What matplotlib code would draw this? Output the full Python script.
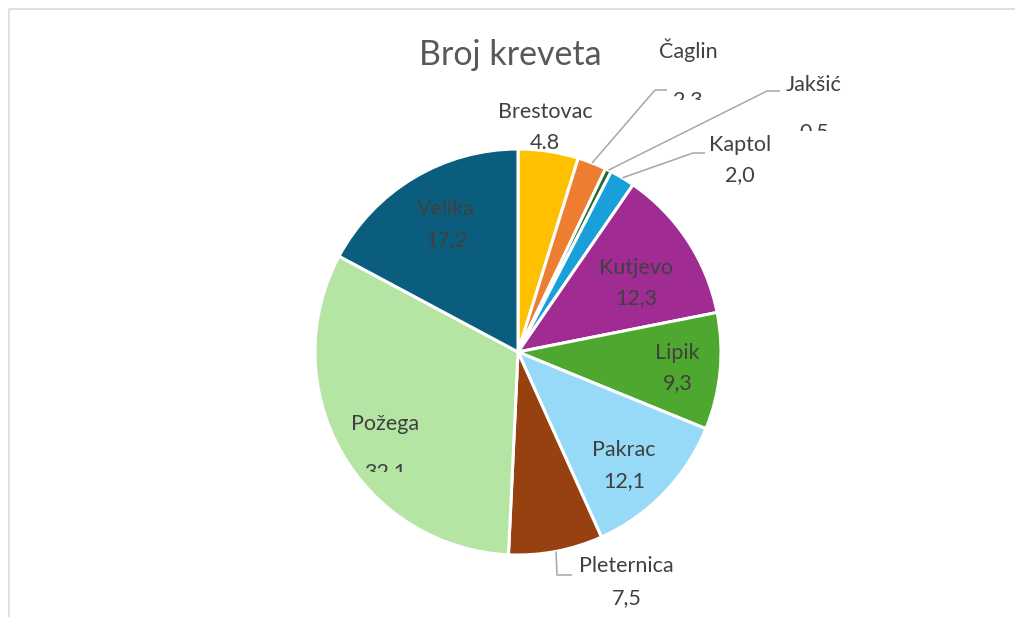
import matplotlib
matplotlib.use("Agg")
import matplotlib.pyplot as plt
from matplotlib.transforms import Bbox, TransformedBbox
import numpy as np

categories = ["Brestovac", "Čaglin", "Jakšić", "Kaptol", "Kutjevo", "Lipik",
              "Pakrac", "Pleternica", "Požega", "Velika"]
values = [4.8, 2.3, 0.5, 2.0, 12.3, 9.3, 12.1, 7.5, 32.1, 17.2]
value_labels = ["4.8", "2,3", "0,5", "2,0", "12,3", "9,3", "12,1", "7,5", "32,1", "17,2"]
colors = ["#FFC000", "#ED7D31", "#1E6B2A", "#1AA0D8", "#A02B93", "#4EA72E",
          "#97DAF7", "#974010", "#B4E5A2", "#0B5D7E"]

W, H = 1015, 617
CX, CY, R = 518, 352, 203

fig = plt.figure(figsize=(W / 100, H / 100), dpi=100)
ax = fig.add_axes([0, 0, 1, 1])

ax.pie(values, colors=colors, startangle=90, counterclock=False, radius=1.0,
       wedgeprops=dict(edgecolor="white", linewidth=2.2))
ax.set_xlim((0 - CX) / R, (W - CX) / R)
ax.set_ylim((CY - H) / R, (CY - 0) / R)
ax.set_aspect("auto")
ax.axis("off")


def px(x, y):
    return (x - CX) / R, (CY - y) / R


FONT = "Lato"
TXT = "#404040"
FS = 15.5

# label layout in pixels: (name_xy, value_xy, clip_y or None, leader [elbow, end] or None)
layout = {
    "Brestovac": ((545, 112), (545, 143), None, None),
    "Čaglin": ((688, 50), (688, 100), 100, [(655, 90), (667, 90)]),
    "Jakšić": ((814, 85), (814, 132), 131, [(767, 91), (780, 91)]),
    "Kaptol": ((740, 145), (740, 175), None, [(693, 153), (705, 153)]),
    "Kutjevo": ((636, 268), (636, 298), None, None),
    "Lipik": ((677, 353), (678, 383), None, None),
    "Pakrac": ((624, 450), (624, 481), None, None),
    "Pleternica": ((626, 566), (627, 598), None, [(557, 575), (572, 575)]),
    "Požega": ((385, 424), (385, 472), 472, None),
    "Velika": ((446, 209), (446, 240), None, None),
}

total = sum(values)
cum = 0.0
for cat, v, vl in zip(categories, values, value_labels):
    mid = (cum + v / 2) / total * 360.0
    cum += v
    theta = np.deg2rad(90 - mid)
    (nx, ny), (vx, vy), clip_y, leader = layout[cat]
    ax.text(*px(nx, ny), cat, ha="center", va="center", fontsize=FS,
            family=FONT, color=TXT)
    t = ax.text(*px(vx, vy), vl, ha="center", va="center", fontsize=FS,
                family=FONT, color=TXT)
    if clip_y is not None:
        x0, y0 = px(0, clip_y)
        x1, y1 = px(W, 0)
        t.set_clip_box(TransformedBbox(Bbox([[x0, y0], [x1, y1]]), ax.transData))
        t.set_clip_on(True)
    if leader is not None:
        sx, sy = np.cos(theta) * 1.0, np.sin(theta) * 1.0
        pts = [(sx, sy)] + [px(*p) for p in leader]
        xs, ys = zip(*pts)
        ax.plot(xs, ys, color="#A6A6A6", lw=1.1, solid_capstyle="butt")

ax.text(*px(510, 55), "Broj kreveta", ha="center", va="center", fontsize=24.5,
        family=FONT, color="#595959")

# chart frame
fx = [px(9, H)[0], px(9, 9)[0], px(W, 9)[0]]
fy = [px(9, H)[1], px(9, 9)[1], px(W, 9)[1]]
ax.plot(fx, fy, color="#D9D9D9", lw=1.2)

fig.savefig("out.png", dpi=100)
